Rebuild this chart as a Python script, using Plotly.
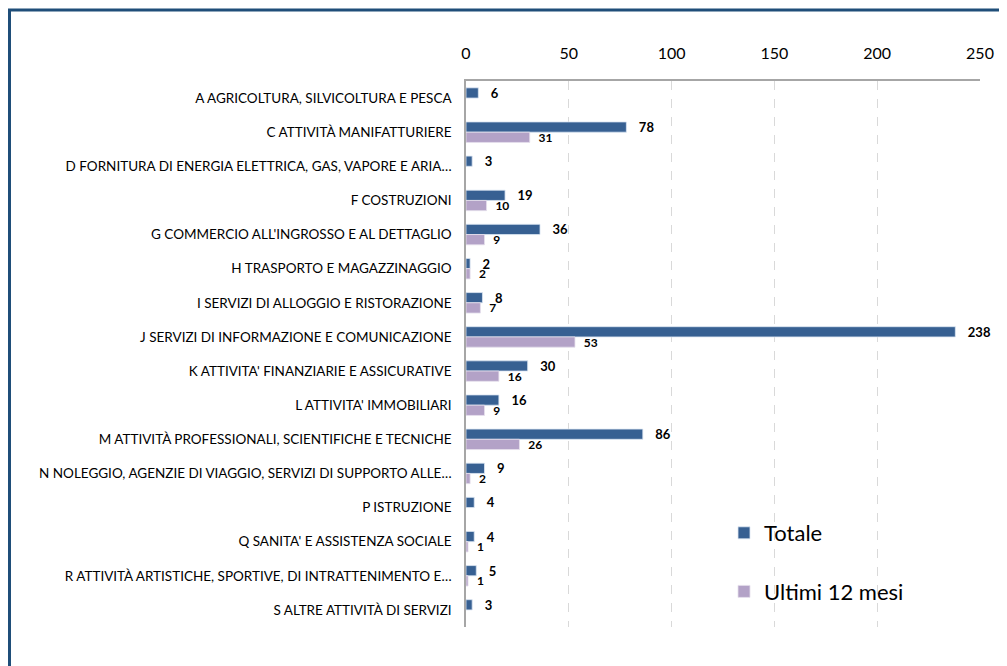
import plotly.graph_objects as go

# settori (dall'alto verso il basso)
settori = [
    "A AGRICOLTURA, SILVICOLTURA E PESCA",
    "C ATTIVITÀ MANIFATTURIERE",
    "D FORNITURA DI ENERGIA ELETTRICA, GAS, VAPORE E ARIA…",
    "F COSTRUZIONI",
    "G COMMERCIO ALL'INGROSSO E AL DETTAGLIO",
    "H TRASPORTO E MAGAZZINAGGIO",
    "I SERVIZI DI ALLOGGIO E RISTORAZIONE",
    "J SERVIZI DI INFORMAZIONE E COMUNICAZIONE",
    "K ATTIVITA' FINANZIARIE E ASSICURATIVE",
    "L ATTIVITA' IMMOBILIARI",
    "M ATTIVITÀ PROFESSIONALI, SCIENTIFICHE E TECNICHE",
    "N NOLEGGIO, AGENZIE DI VIAGGIO, SERVIZI DI SUPPORTO ALLE…",
    "P ISTRUZIONE",
    "Q SANITA' E ASSISTENZA SOCIALE",
    "R ATTIVITÀ ARTISTICHE, SPORTIVE, DI INTRATTENIMENTO E…",
    "S ALTRE ATTIVITÀ DI SERVIZI",
]
totale = [6, 78, 3, 19, 36, 2, 8, 238, 30, 16, 86, 9, 4, 4, 5, 3]
ultimi_12 = [None, 31, None, 10, 9, 2, 7, 53, 16, 9, 26, 2, None, 1, 1, None]
x_ticks = [0, 50, 100, 150, 200, 250]

BLU = "#376092"
LILLA = "#b3a2c7"

def etichette(vals, pad):
    return ["" if v is None else pad + str(v) for v in vals]

fig = go.Figure()
fig.add_trace(go.Bar(
    y=settori, x=totale, orientation="h", name="Totale",
    marker=dict(color=BLU, line=dict(color="#dce6f2", width=0.8)),
    text=etichette(totale, "   "), textposition="outside", cliponaxis=False,
    constraintext="none",
    textfont=dict(family="Lato", size=13, color="black", weight="bold"),
    legendgroup="a",
))
fig.add_trace(go.Bar(
    y=settori, x=ultimi_12, orientation="h", name="Ultimi 12 mesi",
    marker=dict(color=LILLA, line=dict(color="#e6e0ec", width=0.8)),
    text=etichette(ultimi_12, "  "), textposition="outside", cliponaxis=False,
    constraintext="none",
    textfont=dict(family="Lato", size=12, color="black", weight="bold"),
    legendgroup="b",
))

# la pagina ha un margine di 8px: si compensa qui
OFF = 8
W, H = 1007 - OFF, 666 - OFF
L, R, T, B = 466 - OFF, 27, 81 - OFF, 39
pw, ph = W - L - R, H - T - B

def px(xp):
    return (xp - OFF - L) / pw

def py(yp):
    return (H - B - (yp - OFF)) / ph

fig.update_layout(
    width=W, height=H,
    margin=dict(l=L, r=R, t=T, b=B),
    paper_bgcolor="white", plot_bgcolor="white",
    barmode="group", bargap=0.4, bargroupgap=0,
    font=dict(family="Lato", color="black"),
    showlegend=True,
    legend=dict(x=px(724), y=py(512), xanchor="left", yanchor="top",
                font=dict(size=22, family="Lato"), tracegroupgap=27,
                bgcolor="rgba(0,0,0,0)", itemwidth=30),
    xaxis=dict(side="top", range=[0, 250], tickvals=x_ticks,
               showgrid=True, gridcolor="#d9d9d9", griddash="dash", gridwidth=1,
               showline=True, linecolor="#a6a6a6", linewidth=1.5, mirror=False,
               zeroline=False, ticks="", ticklabelstandoff=14,
               tickfont=dict(size=16, family="Lato")),
    yaxis=dict(autorange="reversed", showline=True, linecolor="#a6a6a6",
               linewidth=1.5, ticks="", ticklabelstandoff=10,
               tickfont=dict(size=13.5, family="Lato"), showgrid=False),
    shapes=[
        dict(type="line", xref="paper", yref="paper",
             x0=px(8), x1=px(1012), y0=py(10), y1=py(10),
             line=dict(color="#1f4e79", width=3)),
        dict(type="line", xref="paper", yref="paper",
             x0=px(9.5), x1=px(9.5), y0=py(9), y1=py(672),
             line=dict(color="#1f4e79", width=3)),
    ],
)

fig.write_html("out.html")
